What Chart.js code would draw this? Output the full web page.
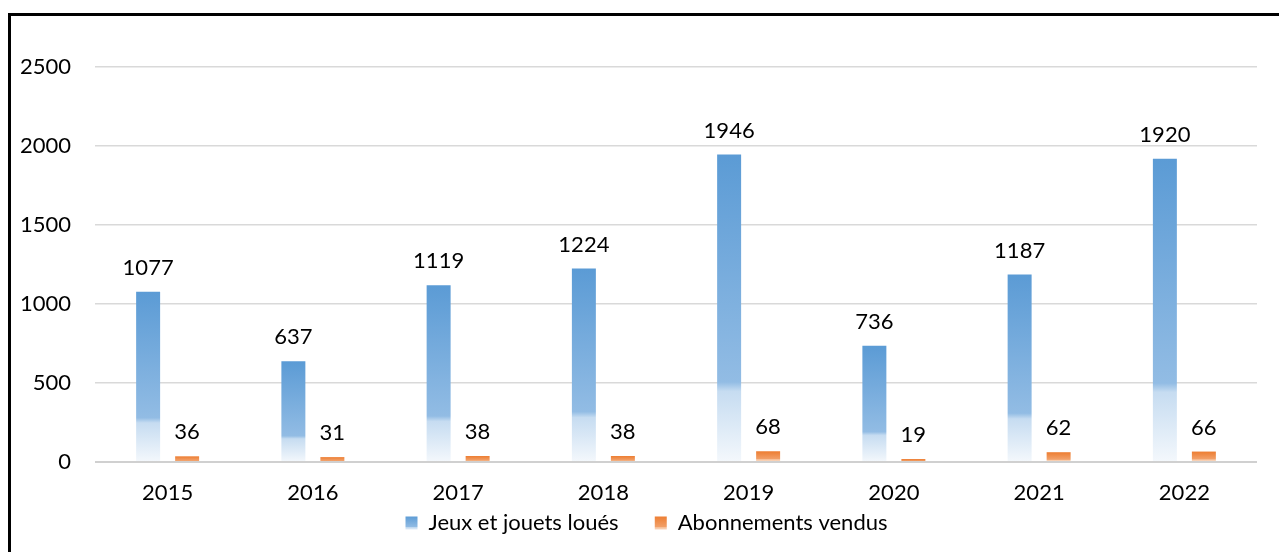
<!DOCTYPE html>
<html lang="fr">
<head>
    <meta charset="UTF-8">
    <title>Jeux et jouets loués / Abonnements vendus</title>
    <script src="https://cdn.jsdelivr.net/npm/chart.js"></script>
    <style>
        html, body { margin: 0; padding: 0; background: #ffffff; }
        .wrap { position: relative; width: 1279px; height: 552px; }
    </style>
</head>
<body>
    <div class="wrap">
        <canvas id="chart" width="1279" height="552"></canvas>
    </div>
    <script>
        const years = ['2015', '2016', '2017', '2018', '2019', '2020', '2021', '2022'];
        const jeuxLoues = [1077, 637, 1119, 1224, 1946, 736, 1187, 1920];
        const abonnements = [36, 31, 38, 38, 68, 19, 62, 66];

        const FONT = 'Lato, Carlito, Calibri, sans-serif';

        const blueStops = [[0, '#5b9bd5'], [0.74, '#92bce4'], [0.77, '#c6dcf1'], [1, '#f4f8fc']];
        const orangeStops = [[0, '#ed7d31'], [0.74, '#f2a16a'], [0.77, '#f7c49f'], [1, '#fbe3d2']];

        function makeGradient(ctx, top, bottom, stops) {
            const g = ctx.createLinearGradient(0, top, 0, bottom);
            stops.forEach(s => g.addColorStop(s[0], s[1]));
            return g;
        }

        // gradient on each bar, from its top down to zero
        function barFill(stops, fallback) {
            return function(context) {
                const chart = context.chart;
                if (!chart.chartArea || context.raw === undefined) return fallback;
                const y = chart.scales.y;
                const top = y.getPixelForValue(context.raw);
                const base = y.getPixelForValue(0);
                if (base - top < 1) return fallback;
                return makeGradient(chart.ctx, top, base, stops);
            };
        }

        // black frame, top and left edges
        const framePlugin = {
            id: 'frame',
            afterLayout(chart) {
                // legend sits a little right of the canvas centre
                chart.legend.left += 18;
                chart.legend.right += 18;
            },
            afterDraw(chart) {
                const ctx = chart.ctx;
                ctx.save();
                ctx.strokeStyle = '#000000';
                ctx.lineWidth = 3;
                ctx.beginPath();
                ctx.moveTo(9.5, 552);
                ctx.lineTo(9.5, 14.5);
                ctx.lineTo(1279, 14.5);
                ctx.stroke();
                ctx.restore();
            }
        };

        // value above every bar
        const valueLabels = {
            id: 'valueLabels',
            afterDatasetsDraw(chart) {
                const ctx = chart.ctx;
                ctx.save();
                ctx.font = '22px ' + FONT;
                ctx.fillStyle = '#000000';
                ctx.textAlign = 'center';
                ctx.textBaseline = 'middle';
                chart.data.datasets.forEach((ds, i) => {
                    chart.getDatasetMeta(i).data.forEach((bar, j) => {
                        ctx.fillText(String(ds.data[j]), bar.x, bar.y - 24);
                    });
                });
                ctx.restore();
            }
        };

        const ctx = document.getElementById('chart').getContext('2d');
        new Chart(ctx, {
            type: 'bar',
            data: {
                labels: years,
                datasets: [
                    {
                        label: 'Jeux et jouets loués',
                        data: jeuxLoues,
                        backgroundColor: barFill(blueStops, '#5b9bd5'),
                        barPercentage: 0.615,
                        categoryPercentage: 0.537
                    },
                    {
                        label: 'Abonnements vendus',
                        data: abonnements,
                        backgroundColor: barFill(orangeStops, '#ed7d31'),
                        barPercentage: 0.615,
                        categoryPercentage: 0.537
                    }
                ]
            },
            options: {
                responsive: false,
                animation: false,
                layout: { padding: { top: 67, right: 22, left: 0, bottom: 8 } },
                scales: {
                    x: {
                        afterFit(scale) { scale.height = 42; },
                        grid: { display: false, drawTicks: false },
                        border: { display: false },
                        ticks: { color: '#000000', font: { family: FONT, size: 22 }, padding: 18 }
                    },
                    y: {
                        min: 0,
                        max: 2500,
                        afterFit(scale) { scale.width = 95; },
                        grid: {
                            drawTicks: false,
                            color: ctx => ctx.tick && ctx.tick.value === 0 ? '#d0d0d0' : '#d9d9d9',
                            lineWidth: ctx => ctx.tick && ctx.tick.value === 0 ? 2 : 1.5
                        },
                        border: { display: false },
                        ticks: {
                            stepSize: 500,
                            color: '#000000',
                            font: { family: FONT, size: 22 },
                            padding: 24,
                            callback: v => String(v)
                        }
                    }
                },
                plugins: {
                    tooltip: { enabled: false },
                    legend: {
                        position: 'bottom',
                        labels: {
                            color: '#000000',
                            font: { family: FONT, size: 22 },
                            boxWidth: 12,
                            boxHeight: 13,
                            padding: 8,
                            generateLabels(chart) {
                                const c = chart.ctx;
                                return chart.data.datasets.map((ds, i) => ({
                                    // a few trailing spaces widen the gap between the two entries
                                    text: i === 0 ? ds.label + '\u00a0\u00a0\u00a0\u00a0\u00a0' : ds.label,
                                    fillStyle: makeGradient(c, 516, 531, i === 0 ? blueStops : orangeStops),
                                    strokeStyle: 'rgba(0,0,0,0)',
                                    lineWidth: 0,
                                    hidden: false,
                                    datasetIndex: i
                                }));
                            }
                        }
                    }
                }
            },
            plugins: [framePlugin, valueLabels]
        });
    </script>
</body>
</html>
